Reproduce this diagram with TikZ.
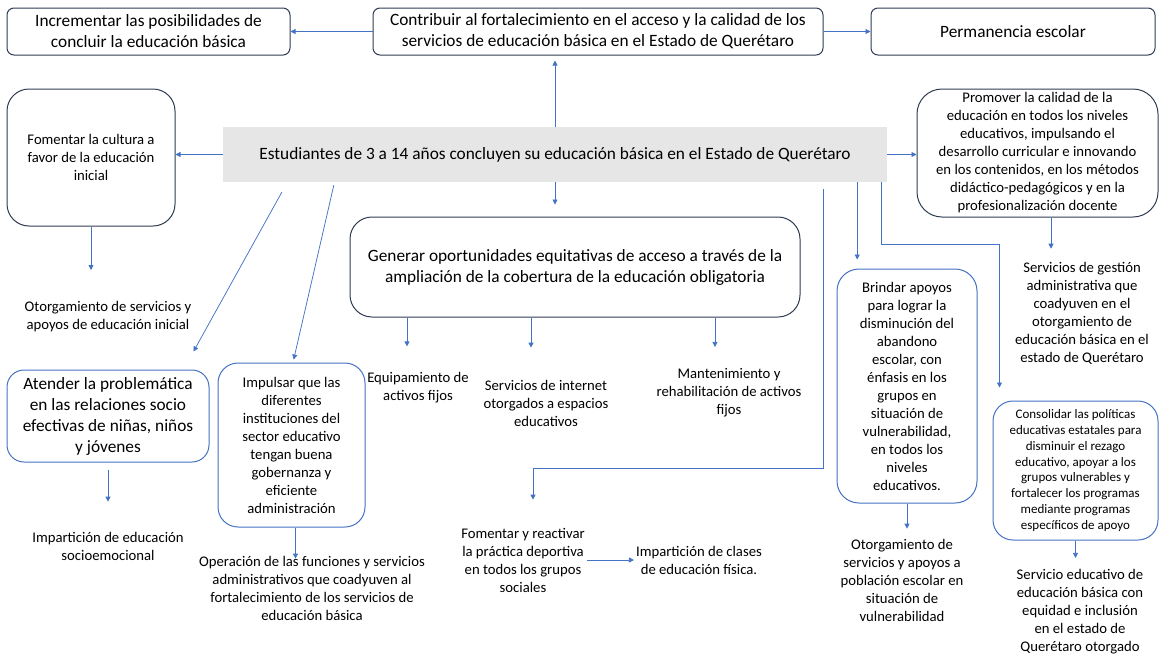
\documentclass[tikz,border=0pt]{standalone}
\usepackage{fontspec}
\setmainfont{Carlito}
\usetikzlibrary{positioning, arrows.meta}
\definecolor{navy}{HTML}{2F3B52}
\definecolor{oblue}{HTML}{4472C4}
\definecolor{lgray}{HTML}{E6E6E6}
\newcommand{\bigf}{\fontsize{17.3}{21}\selectfont}
\newcommand{\midf}{\fontsize{14.7}{18}\selectfont}
\newcommand{\smallf}{\fontsize{13}{15.8}\selectfont}

\begin{document}
\begin{tikzpicture}[x=1pt, y=-1pt,
    topbox/.style = {draw=navy, line width=1pt, rounded corners=7pt,
      align=center, font=\bigf, inner sep=0pt},
    dbox/.style = {draw=navy, line width=1pt, rounded corners=22pt,
      align=center, font=\midf, inner sep=0pt},
    bbox/.style = {draw=oblue, line width=1pt, rounded corners=20pt,
      align=center, font=\midf, inner sep=0pt},
    lbl/.style = {align=center, font=\midf, inner sep=2pt},
    arr/.style = {draw=oblue, line width=0.75pt,
      -{Triangle[length=5pt, width=5pt]}},
  ]
\useasboundingbox (0,0) rectangle (1159,654);

% top row
\node[topbox, minimum width=283pt, minimum height=47pt] (incr) at (148.5,31.5)
    {Incrementar las posibilidades de\\ concluir la educación básica};
\node[topbox, minimum width=450pt, minimum height=47pt] (contrib) at (598,31.5)
    {Contribuir al fortalecimiento en el acceso y la calidad de los\\
     servicios de educación básica en el Estado de Querétaro};
\node[topbox, minimum width=284pt, minimum height=47pt] (perm) at (1013,31.5)
    {Permanencia escolar};

% central problem
\node[fill=lgray, font=\bigf, minimum width=664pt, minimum height=55pt,
      inner sep=0pt] (main) at (555,154.5)
    {Estudiantes de 3 a 14 años concluyen su educación básica en el Estado de Querétaro};

% boxes
\node[dbox, minimum width=168pt, minimum height=137pt] (fcult) at (91,157.5)
    {Fomentar la cultura a\\ favor de la educación\\ inicial};
\node[dbox, rounded corners=25pt, minimum width=241pt, minimum height=128pt]
    (promo) at (1037.5,153)
    {Promover la calidad de la\\ educación en todos los niveles\\
     educativos, impulsando el\\ desarrollo curricular e innovando\\
     en los contenidos, en los métodos\\ didáctico-pedagógicos y en la\\
     profesionalización docente};
\node[dbox, font=\bigf, minimum width=450pt, minimum height=100pt]
    (gener) at (575,267)
    {Generar oportunidades equitativas de acceso a través de la\\
     ampliación de la cobertura de la educación obligatoria};
\node[bbox, rounded corners=17pt, font=\bigf, minimum width=202pt,
      minimum height=92pt] (atend) at (108,416)
    {Atender la problemática\\ en las relaciones socio\\
     efectivas de niñas, niños\\ y jóvenes};
\node[bbox, minimum width=147pt, minimum height=164pt] (impul) at (291.5,445)
    {Impulsar que las\\ diferentes\\ instituciones del\\ sector educativo\\
     tengan buena\\ gobernanza y\\ eficiente\\ administración};
\node[bbox, rounded corners=22pt, minimum width=140pt, minimum height=234pt]
    (brind) at (907,386)
    {Brindar apoyos\\ para lograr la\\ disminución del\\ abandono\\
     escolar, con\\ énfasis en los\\ grupos en\\ situación de\\
     vulnerabilidad,\\ en todos los\\ niveles\\ educativos.};
\node[bbox, font=\smallf, minimum width=165pt, minimum height=139pt]
    (cons) at (1075.5,470.5)
    {Consolidar las políticas\\ educativas estatales para\\
     disminuir el rezago\\ educativo, apoyar a los\\
     grupos vulnerables y\\ fortalecer los programas\\
     mediante programas\\ específicos de apoyo};

% labels
\node[lbl] (otinic) at (108,316.5)
    {Otorgamiento de servicios y\\ apoyos de educación inicial};
\node[lbl] (equip) at (418,388) {Equipamiento de\\ activos fijos};
\node[lbl] (inter) at (546,403)
    {Servicios de internet\\ otorgados a espacios\\ educativos};
\node[lbl] (mant) at (729,392.5)
    {Mantenimiento y\\ rehabilitación de activos\\ fijos};
\node[lbl] (sgest) at (1082,313)
    {Servicios de gestión\\ administrativa que\\ coadyuven en el\\
     otorgamiento de\\ educación básica en el\\ estado de Querétaro};
\node[lbl] (socio) at (108,546)
    {Impartición de educación\\ socioemocional};
\node[lbl] (opera) at (312,588)
    {Operación de las funciones y servicios\\
     administrativos que coadyuven al\\
     fortalecimiento de los servicios de\\ educación básica};
\node[lbl] (depor) at (523,560)
    {Fomentar y reactivar\\ la práctica deportiva\\
     en todos los grupos\\ sociales};
\node[lbl] (fisic) at (699,560)
    {Impartición de clases\\ de educación física.};
\node[lbl] (otvul) at (902,580)
    {Otorgamiento de\\ servicios y apoyos a\\ población escolar en\\
     situación de\\ vulnerabilidad};
\node[lbl] (seduc) at (1080,611.5)
    {Servicio educativo de\\ educación básica con\\ equidad e inclusión\\
     en el estado de\\ Querétaro otorgado};

% connectors
\draw[arr] (contrib) -- (incr);
\draw[arr] (contrib) -- (perm);
\draw[arr, shorten >=5pt] (main.north) -- (main.north |- contrib.south);
\draw[arr] (main.west) -- (main.west -| fcult.east);
\draw[arr] (main.east) -- (main.east -| promo.west);
\draw[arr, shorten >=12pt] (main.south) -- (main.south |- gener.north);
\draw[arr] ([xshift=59pt, yshift=-10pt]main.south west)
    -- ([xshift=-16pt, yshift=18pt]atend.north east);
\draw[arr, shorten >=3pt] ([xshift=111pt, yshift=-3pt]main.south west)
    -- ([xshift=1.5pt]impul.north);
\draw[arr, shorten >=24pt] ([xshift=-11pt]equip.north |- gener.south)
    -- ([xshift=-11pt]equip.north);
\draw[arr, shorten >=30pt] ([xshift=-15pt]inter.north |- gener.south)
    -- ([xshift=-15pt]inter.north);
\draw[arr, shorten >=19pt] ([xshift=-14pt]mant.north |- gener.south)
    -- ([xshift=-14pt]mant.north);
\draw[arr, shorten >=26pt] ([xshift=-64pt, yshift=-7pt]main.south east)
    |- ([xshift=10pt, yshift=57pt]depor.north) -- ([xshift=10pt]depor.north);
\draw[arr] (depor.east) -- (fisic.west);
\draw[arr, shorten >=9pt] ([xshift=-30pt]main.south east)
    -- ([xshift=-30pt]main.south east |- brind.north);
\draw[arr, shorten >=8pt] (brind.south) -- (brind.south |- otvul.north);
\draw[arr, shorten >=13pt] ([xshift=-6pt]main.south east)
    |- ([xshift=7pt, yshift=156pt]cons.north west) -- ([xshift=7pt]cons.north west);
\draw[arr, shorten >=11pt] ([xshift=13.5pt]promo.south)
    -- ([xshift=13.5pt]promo.south |- sgest.north);
\draw[arr, shorten >=9pt] (cons.south) -- (cons.south |- seduc.north);
\draw[arr, shorten >=28pt] ([yshift=-7pt]atend.south) -- (atend.south |- socio.north);
\draw[arr, shorten >=-5pt] ([xshift=4pt]impul.south)
    -- ([xshift=4pt]impul.south |- opera.north);
\draw[arr, shorten >=29pt] (fcult.south) -- (fcult.south |- otinic.north);
\end{tikzpicture}
\end{document}
